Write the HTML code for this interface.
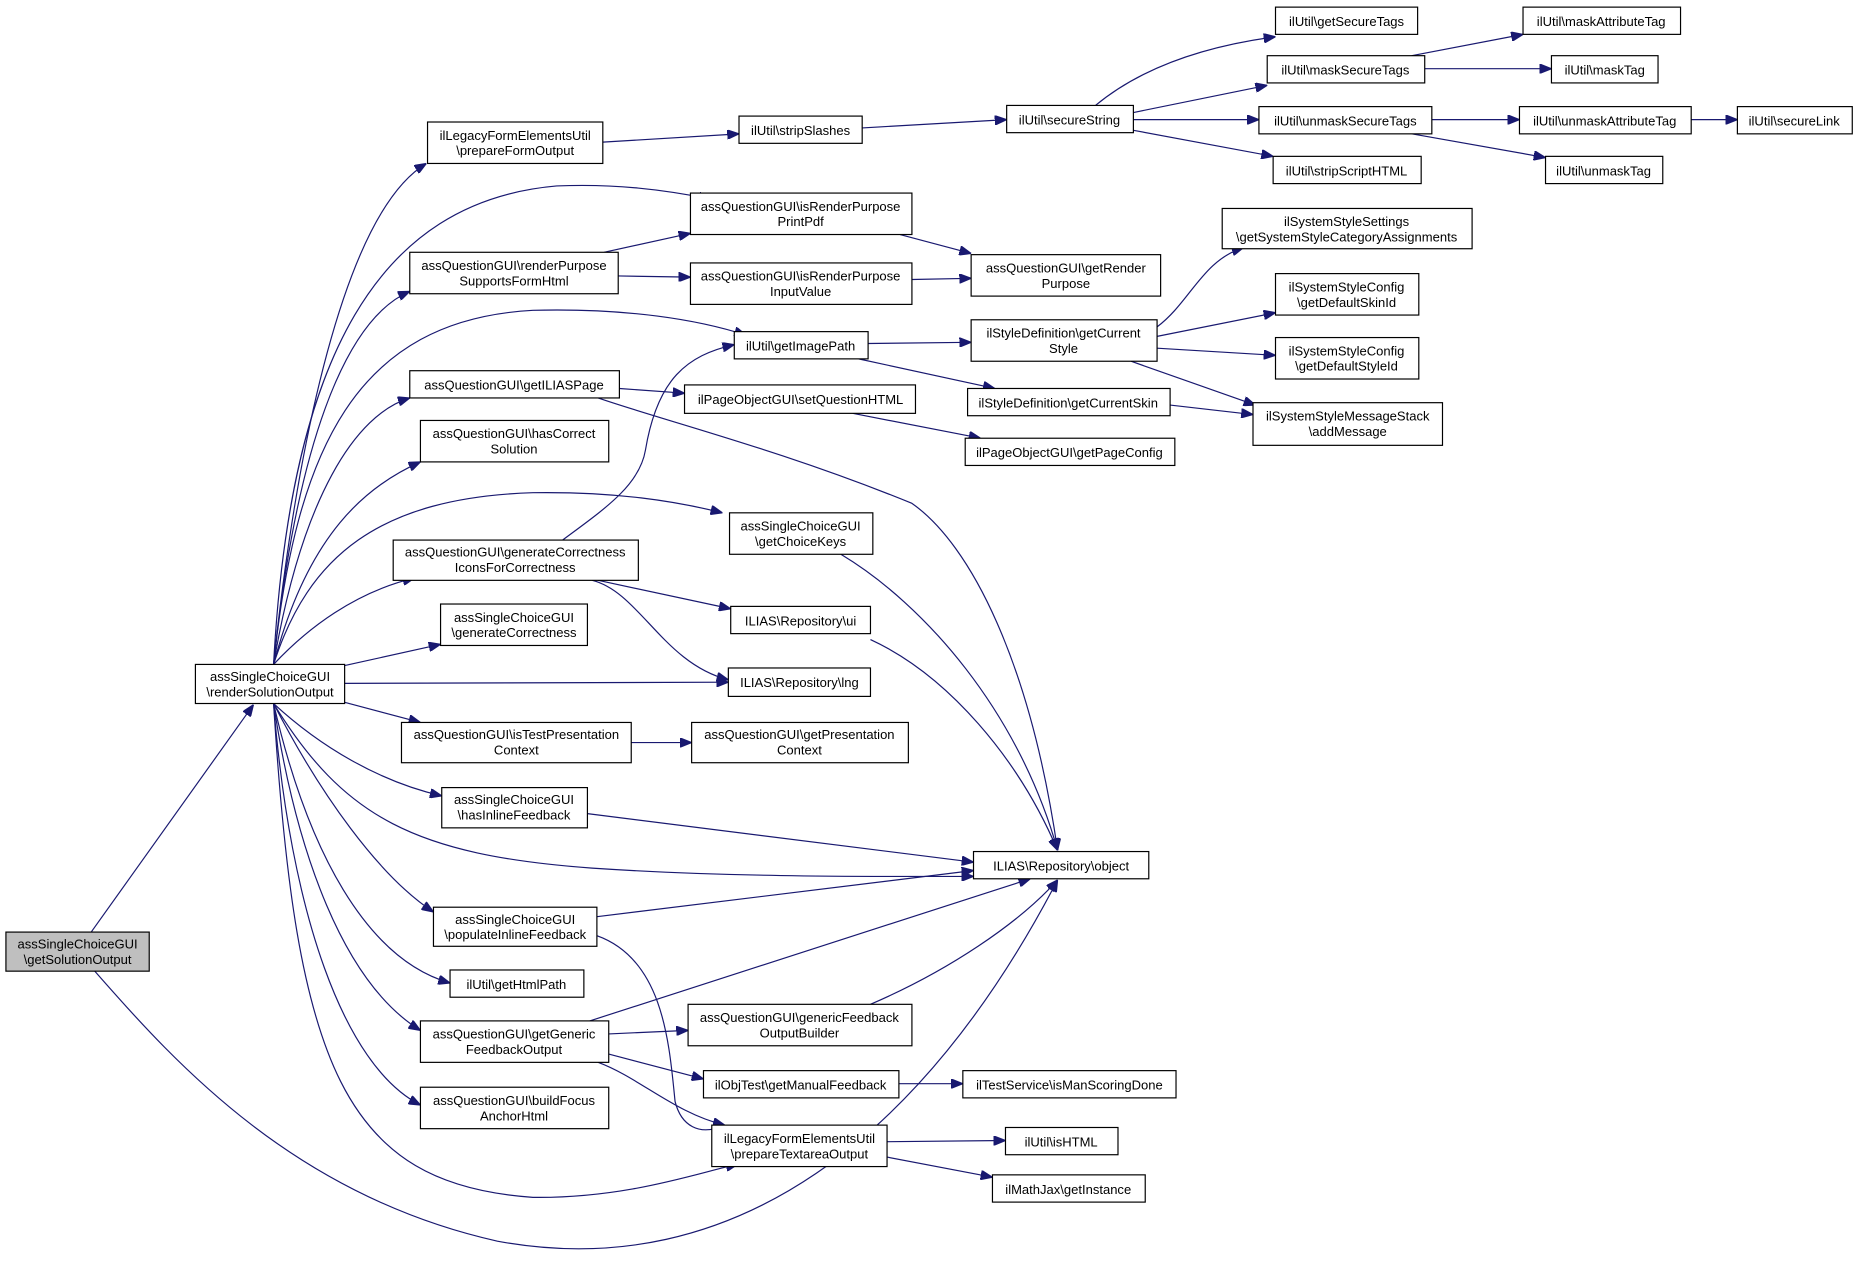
<!DOCTYPE html>
<html><head><meta charset="utf-8"><style>
html,body{margin:0;padding:0;background:#fff;}
svg text{font-family:"Liberation Sans",Arial,sans-serif;font-size:11px;fill:#000;text-anchor:middle;}
.n{fill:#fff;stroke:#000;stroke-width:1;}
.e{fill:none;stroke:#191970;stroke-width:1;}
</style></head><body>
<svg width="1857" height="1272" viewBox="0 0 1568 1074" xmlns="http://www.w3.org/2000/svg">
<defs><marker id="a" markerWidth="10" markerHeight="8" refX="10" refY="4" orient="auto" markerUnits="userSpaceOnUse"><path d="M0,0 L10,4 L0,8 z" fill="#191970" stroke="#191970"/></marker></defs>
<g class="e" marker-end="url(#a)">
<path d="M77,787 L214,595"/>
<path d="M80,820 C150,900 250,1010 420,1048 C620,1085 780,960 893,743"/>
<path d="M231,561 C250,380 290,180 360,138"/>
<path d="M231,561 C245,300 320,170 470,157 C520,155 560,160 600,168"/>
<path d="M231,561 C250,380 290,270 346,246"/>
<path d="M231,561 C250,380 300,270 450,262 C530,260 590,270 630,283"/>
<path d="M231,561 C255,420 300,350 346,336"/>
<path d="M231,561 C260,450 310,410 355,390"/>
<path d="M231,561 C260,470 320,420 450,416 C520,415 570,423 610,433"/>
<path d="M231,561 C260,530 300,500 350,488"/>
<path d="M291,562 L372,544"/>
<path d="M291,577 L615,576"/>
<path d="M291,593 L355,610"/>
<path d="M231,594 C270,630 320,660 373,672"/>
<path d="M231,594 C290,690 350,722 500,733 C620,741 740,740 822,740"/>
<path d="M231,594 C270,670 320,740 366,770"/>
<path d="M231,594 C260,720 310,810 380,830"/>
<path d="M231,594 C250,720 290,830 355,870"/>
<path d="M231,594 C245,770 290,900 355,933"/>
<path d="M231,594 C250,900 290,1000 450,1011 C530,1012 590,990 623,983"/>
<path d="M509,120 L624,113"/>
<path d="M728,108 L850,101"/>
<path d="M925,89 C960,60 1010,40 1077,31"/>
<path d="M957,95 L1070,72"/>
<path d="M957,101 L1063,101"/>
<path d="M957,110 L1075,132"/>
<path d="M1192,47 L1286,29"/>
<path d="M1203,58 L1310,58"/>
<path d="M1209,101 L1283,101"/>
<path d="M1192,113 L1305,133"/>
<path d="M1428,101 L1467,101"/>
<path d="M760,198 L820,214"/>
<path d="M510,213 L583,197"/>
<path d="M522,233 L583,234"/>
<path d="M770,236 L820,235"/>
<path d="M733,290 L820,289"/>
<path d="M725,303 L840,328"/>
<path d="M977,276 C1005,255 1015,220 1050,209"/>
<path d="M977,284 L1077,264"/>
<path d="M977,294 L1077,300"/>
<path d="M955,305 L1060,342"/>
<path d="M988,342 L1058,350"/>
<path d="M523,328 L578,332"/>
<path d="M505,336 C560,355 660,380 770,425 C820,460 870,560 893,718"/>
<path d="M720,349 L828,370"/>
<path d="M475,456 C510,430 540,410 545,380 C555,320 580,300 620,291"/>
<path d="M505,490 L617,514"/>
<path d="M500,490 C540,500 560,560 615,574"/>
<path d="M710,468 C780,510 860,600 893,718"/>
<path d="M735,540 C800,570 860,640 893,718"/>
<path d="M533,627 L584,627"/>
<path d="M496,687 L822,728"/>
<path d="M504,774 L822,735"/>
<path d="M504,790 C560,810 565,880 570,930 C575,950 590,960 612,950"/>
<path d="M498,862 L870,742"/>
<path d="M514,873 L581,870"/>
<path d="M514,890 L594,911"/>
<path d="M505,897 C540,910 570,940 612,950"/>
<path d="M735,848 C800,820 860,780 893,743"/>
<path d="M759,915 L813,915"/>
<path d="M749,964 L849,963"/>
<path d="M749,977 L838,994"/>
</g>
<g>
<rect class="n" x="5" y="787" width="121" height="33" style="fill:#bfbfbf"/><text x="65.5" y="801">assSingleChoiceGUI</text><text x="65.5" y="814">\getSolutionOutput</text>
<rect class="n" x="165" y="561" width="126" height="33"/><text x="228" y="575">assSingleChoiceGUI</text><text x="228" y="588">\renderSolutionOutput</text>
<rect class="n" x="361" y="103" width="148" height="35"/><text x="435" y="118">ilLegacyFormElementsUtil</text><text x="435" y="131">\prepareFormOutput</text>
<rect class="n" x="624" y="98" width="104" height="23"/><text x="676" y="114">ilUtil\stripSlashes</text>
<rect class="n" x="850" y="89" width="107" height="23"/><text x="903" y="105">ilUtil\secureString</text>
<rect class="n" x="1077" y="6" width="120" height="23"/><text x="1137" y="22">ilUtil\getSecureTags</text>
<rect class="n" x="1070" y="47" width="133" height="23"/><text x="1136" y="63">ilUtil\maskSecureTags</text>
<rect class="n" x="1063" y="90" width="146" height="23"/><text x="1136" y="106">ilUtil\unmaskSecureTags</text>
<rect class="n" x="1075" y="132" width="125" height="23"/><text x="1137" y="148">ilUtil\stripScriptHTML</text>
<rect class="n" x="1286" y="6" width="133" height="23"/><text x="1352" y="22">ilUtil\maskAttributeTag</text>
<rect class="n" x="1310" y="47" width="90" height="23"/><text x="1355" y="63">ilUtil\maskTag</text>
<rect class="n" x="1283" y="90" width="145" height="23"/><text x="1355" y="106">ilUtil\unmaskAttributeTag</text>
<rect class="n" x="1305" y="132" width="99" height="23"/><text x="1354" y="148">ilUtil\unmaskTag</text>
<rect class="n" x="1467" y="90" width="97" height="23"/><text x="1515" y="106">ilUtil\secureLink</text>
<rect class="n" x="583" y="163" width="187" height="35"/><text x="676" y="178">assQuestionGUI\isRenderPurpose</text><text x="676" y="191">PrintPdf</text>
<rect class="n" x="346" y="213" width="176" height="35"/><text x="434" y="228">assQuestionGUI\renderPurpose</text><text x="434" y="241">SupportsFormHtml</text>
<rect class="n" x="583" y="222" width="187" height="35"/><text x="676" y="237">assQuestionGUI\isRenderPurpose</text><text x="676" y="250">InputValue</text>
<rect class="n" x="820" y="215" width="160" height="35"/><text x="900" y="230">assQuestionGUI\getRender</text><text x="900" y="243">Purpose</text>
<rect class="n" x="1032" y="176" width="211" height="34"/><text x="1137" y="191">ilSystemStyleSettings</text><text x="1137" y="204">\getSystemStyleCategoryAssignments</text>
<rect class="n" x="1077" y="231" width="121" height="35"/><text x="1137" y="246">ilSystemStyleConfig</text><text x="1137" y="259">\getDefaultSkinId</text>
<rect class="n" x="1077" y="285" width="121" height="35"/><text x="1137" y="300">ilSystemStyleConfig</text><text x="1137" y="313">\getDefaultStyleId</text>
<rect class="n" x="820" y="270" width="157" height="35"/><text x="898" y="285">ilStyleDefinition\getCurrent</text><text x="898" y="298">Style</text>
<rect class="n" x="620" y="280" width="113" height="23"/><text x="676" y="296">ilUtil\getImagePath</text>
<rect class="n" x="346" y="313" width="177" height="23"/><text x="434" y="329">assQuestionGUI\getILIASPage</text>
<rect class="n" x="578" y="325" width="195" height="24"/><text x="676" y="341">ilPageObjectGUI\setQuestionHTML</text>
<rect class="n" x="817" y="328" width="171" height="23"/><text x="902" y="344">ilStyleDefinition\getCurrentSkin</text>
<rect class="n" x="1058" y="340" width="160" height="36"/><text x="1138" y="355">ilSystemStyleMessageStack</text><text x="1138" y="368">\addMessage</text>
<rect class="n" x="815" y="370" width="177" height="23"/><text x="903" y="386">ilPageObjectGUI\getPageConfig</text>
<rect class="n" x="355" y="355" width="159" height="35"/><text x="434" y="370">assQuestionGUI\hasCorrect</text><text x="434" y="383">Solution</text>
<rect class="n" x="616" y="433" width="121" height="35"/><text x="676" y="448">assSingleChoiceGUI</text><text x="676" y="461">\getChoiceKeys</text>
<rect class="n" x="332" y="456" width="207" height="34"/><text x="435" y="470">assQuestionGUI\generateCorrectness</text><text x="435" y="483">IconsForCorrectness</text>
<rect class="n" x="372" y="510" width="124" height="35"/><text x="434" y="525">assSingleChoiceGUI</text><text x="434" y="538">\generateCorrectness</text>
<rect class="n" x="617" y="512" width="118" height="23"/><text x="676" y="528">ILIAS\Repository\ui</text>
<rect class="n" x="615" y="564" width="120" height="24"/><text x="675" y="580">ILIAS\Repository\lng</text>
<rect class="n" x="339" y="610" width="194" height="34"/><text x="436" y="624">assQuestionGUI\isTestPresentation</text><text x="436" y="637">Context</text>
<rect class="n" x="584" y="610" width="183" height="34"/><text x="675" y="624">assQuestionGUI\getPresentation</text><text x="675" y="637">Context</text>
<rect class="n" x="373" y="665" width="123" height="34"/><text x="434" y="679">assSingleChoiceGUI</text><text x="434" y="692">\hasInlineFeedback</text>
<rect class="n" x="822" y="719" width="148" height="23"/><text x="896" y="735">ILIAS\Repository\object</text>
<rect class="n" x="366" y="766" width="138" height="33"/><text x="435" y="780">assSingleChoiceGUI</text><text x="435" y="793">\populateInlineFeedback</text>
<rect class="n" x="380" y="819" width="113" height="23"/><text x="436" y="835">ilUtil\getHtmlPath</text>
<rect class="n" x="355" y="862" width="159" height="35"/><text x="434" y="877">assQuestionGUI\getGeneric</text><text x="434" y="890">FeedbackOutput</text>
<rect class="n" x="581" y="848" width="189" height="35"/><text x="675" y="863">assQuestionGUI\genericFeedback</text><text x="675" y="876">OutputBuilder</text>
<rect class="n" x="594" y="904" width="165" height="23"/><text x="676" y="920">ilObjTest\getManualFeedback</text>
<rect class="n" x="813" y="904" width="180" height="23"/><text x="903" y="920">ilTestService\isManScoringDone</text>
<rect class="n" x="355" y="918" width="159" height="35"/><text x="434" y="933">assQuestionGUI\buildFocus</text><text x="434" y="946">AnchorHtml</text>
<rect class="n" x="601" y="950" width="148" height="35"/><text x="675" y="965">ilLegacyFormElementsUtil</text><text x="675" y="978">\prepareTextareaOutput</text>
<rect class="n" x="849" y="952" width="95" height="23"/><text x="896" y="968">ilUtil\isHTML</text>
<rect class="n" x="838" y="992" width="129" height="23"/><text x="902" y="1008">ilMathJax\getInstance</text>
</g>
</svg>
</body></html>
